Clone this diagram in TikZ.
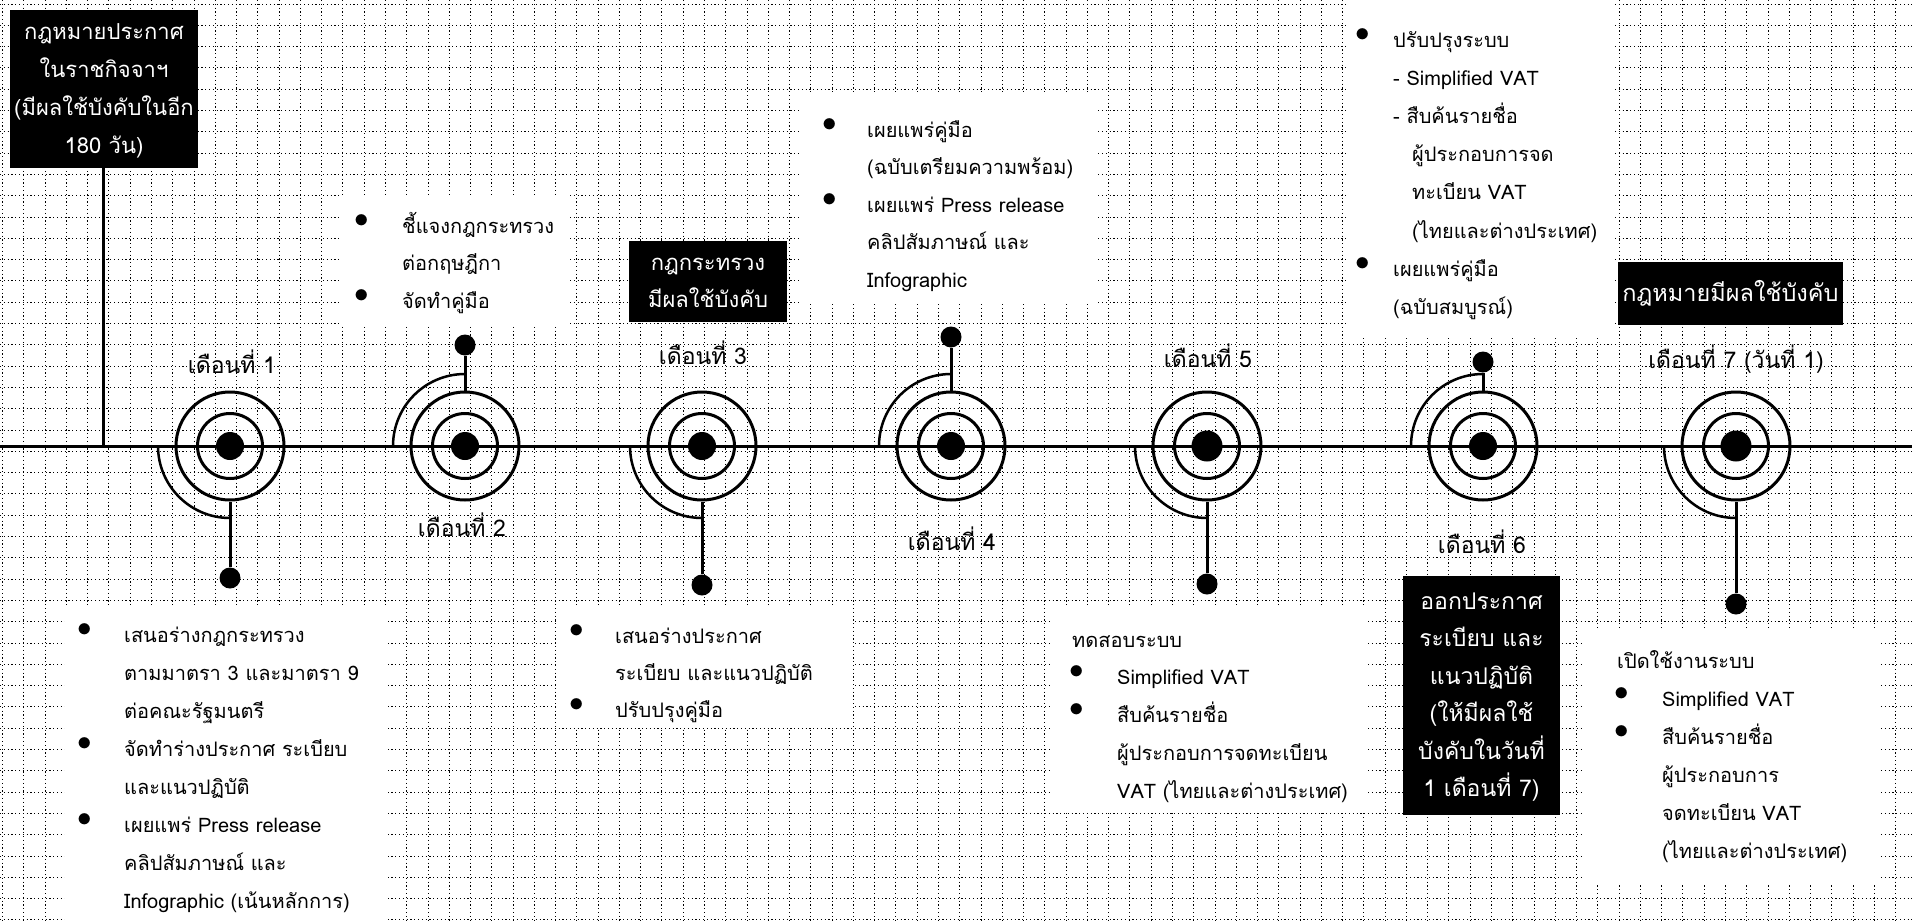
\documentclass[tikz,border=0pt]{standalone}
\usepackage{fontspec}
\usepackage{graphicx}
\setmainfont[Script=Thai]{Loma}
\usetikzlibrary{calc}
\newlength\bo
\newlength\bw
\newcommand\bdot{\makebox[0pt][c]{\raisebox{6pt}{\scalebox{1.4}{$\bullet$}}}}
\newcommand\bi{\makebox[\bw][l]{\hspace*{\bo}\bdot}}
\newcommand\ci{\hspace*{\bw}}
\tikzset{
  gridline/.style={line width=1pt, dash pattern=on 1.2pt off 2.6pt, black},
  txt/.style={inner sep=0pt, anchor=base west, font=\fontsize{20}{#1}\selectfont},
  txt/.default=38,
  bbox/.style={fill=black, text=white, inner sep=0pt},
  mlab/.style={inner sep=0pt, anchor=base, font=\fontsize{23}{27}\selectfont},
  ring/.style={circle, draw, line width=3pt, inner sep=0pt, minimum size=108pt},
  ringin/.style={circle, draw, line width=3pt, inner sep=0pt, minimum size=65pt},
  core/.style={circle, fill=black, inner sep=0pt, minimum size=28pt},
  pin/.style={circle, fill=black, inner sep=0pt, minimum size=21pt},
  stem/.style={line width=3pt},
  swirl/.style={line width=2.5pt},
  tline/.style={line width=3pt}
}
\begin{document}
\begin{tikzpicture}[x=1pt, y=-1pt]
\useasboundingbox (0,0) rectangle (1912,921);
\fill[white] (0,0) rectangle (1912,921);
% grid
\foreach \i in {0,...,89} \draw[gridline] ({2.6+\i*21.27},0) -- ({2.6+\i*21.27},921);
\foreach \j in {0,...,43} \draw[gridline] (0,{4+\j*21.3}) -- (1912,{4+\j*21.3});
% white panels
\fill[white] (340,195) rectangle (567,325);
\fill[white] (800,93) rectangle (1097,303);
\fill[white] (1348,0) rectangle (1614,336);
\fill[white] (65,607) rectangle (388,921);
\fill[white] (557,607) rectangle (852,728);
\fill[white] (1050,607) rectangle (1365,812);
\fill[white] (1583,630) rectangle (1880,883);

% timeline
\coordinate (tlL) at (0,446);
\coordinate (tlR) at (1912,446);
\draw[tline] (tlL) -- (tlR);

% law box
\node[bbox, font=\fontsize{22}{38}\selectfont, minimum width=188pt, minimum height=158pt] (law) at (104,89)
  {\begin{tabular}{@{}c@{}}กฎหมายประกาศ\\ในราชกิจจาฯ\\(มีผลใช้บังคับในอีก\\180 วัน)\end{tabular}};
\coordinate (lawfoot) at (103,446);
\draw[stem] (law.south -| lawfoot) -- (lawfoot);

% month 1 (down)
\node[ring] (m1) at (230,446) {};
\node[ringin] (m1i) at (m1) {};
\node[core] (m1c) at (m1) {};
\node[pin] (p1) at (230,578) {};
\draw[stem] (m1.south) -- (p1);
\draw[swirl] (m1.center) ++(-72pt,0pt) arc[start angle=180, end angle=270, radius=72pt];
\node[mlab] (l1) at (232,373) {เดือนที่ 1};

% month 2 (up)
\node[ring] (m2) at (465,446) {};
\node[ringin] (m2i) at (m2) {};
\node[core] (m2c) at (m2) {};
\node[pin] (p2) at (465,345) {};
\draw[stem] (m2.north) -- (p2);
\draw[swirl] (m2.center) ++(-72pt,0pt) arc[start angle=180, end angle=90, radius=72pt];
\node[mlab] (l2) at (462,536) {เดือนที่ 2};

% month 3 (down)
\node[ring] (m3) at (702,446) {};
\node[ringin] (m3i) at (m3) {};
\node[core] (m3c) at (m3) {};
\node[pin] (p3) at (702,585) {};
\draw[stem] (m3.south) -- (p3);
\draw[swirl] (m3.center) ++(-72pt,0pt) arc[start angle=180, end angle=270, radius=72pt];
\node[mlab] (l3) at (703,364) {เดือนที่ 3};

% month 4 (up)
\node[ring] (m4) at (951,446) {};
\node[ringin] (m4i) at (m4) {};
\node[core] (m4c) at (m4) {};
\node[pin] (p4) at (951,337) {};
\draw[stem] (m4.north) -- (p4);
\draw[swirl] (m4.center) ++(-72pt,0pt) arc[start angle=180, end angle=90, radius=72pt];
\node[mlab] (l4) at (952,550) {เดือนที่ 4};

% month 5 (down)
\node[ring] (m5) at (1207,446) {};
\node[ringin] (m5i) at (m5) {};
\node[core, minimum size=31pt] (m5c) at (m5) {};
\node[pin] (p5) at (1207,584) {};
\draw[stem] (m5.south) -- (p5);
\draw[swirl] (m5.center) ++(-72pt,0pt) arc[start angle=180, end angle=270, radius=72pt];
\node[mlab] (l5) at (1208,367) {เดือนที่ 5};

% month 6 (up)
\node[ring] (m6) at (1483,446) {};
\node[ringin] (m6i) at (m6) {};
\node[core] (m6c) at (m6) {};
\node[pin] (p6) at (1483,362) {};
\draw[stem] (m6.north) -- (p6);
\draw[swirl] (m6.center) ++(-72pt,0pt) arc[start angle=180, end angle=90, radius=72pt];
\node[mlab] (l6) at (1482,553) {เดือนที่ 6};

% month 7 (down)
\node[ring] (m7) at (1736,446) {};
\node[ringin] (m7i) at (m7) {};
\node[core, minimum size=31pt] (m7c) at (m7) {};
\node[pin] (p7) at (1736,604) {};
\draw[stem] (m7.south) -- (p7);
\draw[swirl] (m7.center) ++(-72pt,0pt) arc[start angle=180, end angle=270, radius=72pt];
\node[mlab] (l7) at (1736,368) {เดือนที่ 7 (วันที่ 1)};

% black boxes
\node[bbox, font=\fontsize{22}{37}\selectfont, minimum width=158pt, minimum height=81pt] (b3) at (708,281.5)
  {\begin{tabular}{@{}c@{}}กฎกระทรวง\\มีผลใช้บังคับ\end{tabular}};
\node[bbox, font=\fontsize{23.5}{30}\selectfont, minimum width=225pt, minimum height=63pt] (b7) at (1730.5,293.5)
  {กฎหมายมีผลใช้บังคับ};
\node[bbox, font=\fontsize{23}{37.4}\selectfont, minimum width=157pt, minimum height=239pt] (b6) at (1481.5,695.5)
  {\begin{tabular}{@{}c@{}}ออกประกาศ\\ระเบียบ และ\\แนวปฏิบัติ\\(ให้มีผลใช้\\บังคับในวันที่\\1 เดือนที่ 7)\end{tabular}};

% text boxes
\node[txt] (t1) at (85,642) {\setlength\bo{0pt}\setlength\bw{39pt}%
\begin{tabular}[t]{@{}l@{}}
\bi เสนอร่างกฎกระทรวง\\
\ci ตามมาตรา 3 และมาตรา 9\\
\ci ต่อคณะรัฐมนตรี\\
\bi จัดทำร่างประกาศ ระเบียบ\\
\ci และแนวปฏิบัติ\\
\bi เผยแพร่ Press release\\
\ci คลิปสัมภาษณ์ และ\\
\ci Infographic (เน้นหลักการ)
\end{tabular}};

\node[txt=37.5] (t2) at (362,233) {\setlength\bo{0pt}\setlength\bw{40pt}%
\begin{tabular}[t]{@{}l@{}}
\bi ชี้แจงกฎกระทรวง\\
\ci ต่อกฤษฎีกา\\
\bi จัดทำคู่มือ
\end{tabular}};

\node[txt=37] (t3) at (577,643) {\setlength\bo{0pt}\setlength\bw{38pt}%
\begin{tabular}[t]{@{}l@{}}
\bi เสนอร่างประกาศ\\
\ci ระเบียบ และแนวปฏิบัติ\\
\bi ปรับปรุงคู่มือ
\end{tabular}};

\node[txt=37.5] (t4) at (830,137) {\setlength\bo{0pt}\setlength\bw{37pt}%
\begin{tabular}[t]{@{}l@{}}
\bi เผยแพร่คู่มือ\\
\ci (ฉบับเตรียมความพร้อม)\\
\bi เผยแพร่ Press release\\
\ci คลิปสัมภาษณ์ และ\\
\ci Infographic
\end{tabular}};

\node[txt=37.75] (t5) at (1072,647) {\setlength\bo{5pt}\setlength\bw{45pt}%
\begin{tabular}[t]{@{}l@{}}
ทดสอบระบบ\\
\bi Simplified VAT\\
\bi สืบค้นรายชื่อ\\
\ci ผู้ประกอบการจดทะเบียน\\
\ci VAT (ไทยและต่างประเทศ)
\end{tabular}};

\node[txt=38.2] (t6) at (1363,47) {\setlength\bo{0pt}\setlength\bw{30pt}%
\begin{tabular}[t]{@{}l@{}}
\bi ปรับปรุงระบบ\\
\ci - Simplified VAT\\
\ci - สืบค้นรายชื่อ\\
\ci\hspace*{19pt}ผู้ประกอบการจด\\
\ci\hspace*{19pt}ทะเบียน VAT\\
\ci\hspace*{19pt}(ไทยและต่างประเทศ)\\
\bi เผยแพร่คู่มือ\\
\ci (ฉบับสมบูรณ์)
\end{tabular}};

\node[txt=38] (t7) at (1617,668) {\setlength\bo{5pt}\setlength\bw{45pt}%
\begin{tabular}[t]{@{}l@{}}
เปิดใช้งานระบบ\\
\bi Simplified VAT\\
\bi สืบค้นรายชื่อ\\
\ci ผู้ประกอบการ\\
\ci จดทะเบียน VAT\\
\ci (ไทยและต่างประเทศ)
\end{tabular}};
\end{tikzpicture}
\end{document}
